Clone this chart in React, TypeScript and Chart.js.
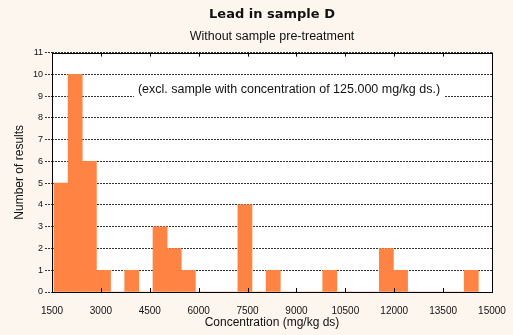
import React, { useEffect, useRef } from "react";
import { Chart, registerables } from "chart.js";

Chart.register(...registerables);

// Histogram bin edges (mg/kg ds) and counts per bin
const binEdges = [
  1560, 1994, 2428, 2862, 3296, 3730, 4164, 4598, 5032, 5466, 5900, 6334, 6768, 7202, 7636,
  8070, 8504, 8938, 9372, 9806, 10240, 10674, 11108, 11542, 11976, 12410, 12844, 13278, 13712,
  14146, 14580,
];
const counts = [
  5, 10, 6, 1, 0, 1, 0, 3, 2, 1, 0, 0, 0, 4, 0, 1, 0, 0, 0, 1, 0, 0, 0, 2, 1, 0, 0, 0, 0, 1,
];
const xTicks = [1500, 3000, 4500, 6000, 7500, 9000, 10500, 12000, 13500, 15000];
const yTicks = [0, 1, 2, 3, 4, 5, 6, 7, 8, 9, 10, 11];

const titleText = "Lead in sample D";
const subtitleText = "Without sample pre-treatment";
const noteText = "(excl. sample with concentration of 125.000 mg/kg ds.)";
const xTitle = "Concentration (mg/kg ds)";
const yTitle = "Number of results";

const BG = "#fdf6ee";
const BAR = "#ff8444";
const FONT = "'Liberation Sans', Arial, sans-serif";

const framePlugin = {
  id: "frame",
  beforeDraw(chart: any) {
    const { ctx, chartArea: a } = chart;
    ctx.save();
    ctx.fillStyle = BG;
    ctx.fillRect(0, 0, chart.width, chart.height);
    ctx.fillStyle = "#ffffff";
    ctx.fillRect(a.left, a.top, a.right - a.left, a.bottom - a.top);
    ctx.restore();
  },
  afterDraw(chart: any) {
    const { ctx, chartArea: a } = chart;
    const xs = chart.scales.x;
    ctx.save();
    // note with white box
    ctx.font = `12.5px ${FONT}`;
    const cx = (a.left + a.right) / 2 + 17;
    const cy = a.top + 37;
    const w = ctx.measureText(noteText).width;
    ctx.fillStyle = "#ffffff";
    ctx.fillRect(cx - w / 2 - 4, cy - 8, w + 8, 16);
    ctx.fillStyle = "#111111";
    ctx.textAlign = "center";
    ctx.textBaseline = "middle";
    ctx.fillText(noteText, cx, cy);
    // frame
    ctx.strokeStyle = "#000000";
    ctx.lineWidth = 1;
    ctx.strokeRect(Math.round(a.left) + 0.5, Math.round(a.top) + 0.5, Math.round(a.right - a.left), Math.round(a.bottom - a.top));
    // inward x tick marks top and bottom
    ctx.beginPath();
    for (const t of xTicks) {
      const px = Math.round(xs.getPixelForValue(t)) + 0.5;
      ctx.moveTo(px, a.bottom);
      ctx.lineTo(px, a.bottom - 4);
      ctx.moveTo(px, a.top);
      ctx.lineTo(px, a.top + 4);
    }
    ctx.stroke();
    ctx.restore();
  },
};

export default function App() {
  const ref = useRef<HTMLCanvasElement | null>(null);
  useEffect(() => {
    document.body.style.margin = "0";
    const data = counts.map((c, i) => ({ x: (binEdges[i] + binEdges[i + 1]) / 2, y: c }));
    const chart = new Chart(ref.current as HTMLCanvasElement, {
      type: "bar",
      data: {
        datasets: [
          {
            data: data as any,
            backgroundColor: BAR,
            borderWidth: 0,
            barPercentage: 1,
            categoryPercentage: 1,
          },
        ],
      },
      options: {
        responsive: false,
        animation: false,
        devicePixelRatio: 1,
        layout: { padding: { left: 0, right: 21, top: 0, bottom: 0 } },
        plugins: {
          legend: { display: false },
          tooltip: { enabled: false },
          title: {
            display: true,
            text: titleText,
            fullSize: false,
            color: "#111",
            font: { family: "'DejaVu Sans', sans-serif", size: 13, weight: "bold", lineHeight: 1.2 },
            padding: { top: 7, bottom: 3 },
          },
          subtitle: {
            display: true,
            text: subtitleText,
            fullSize: false,
            color: "#111",
            font: { family: FONT, size: 12.5, lineHeight: 1.2 },
            padding: { top: 3, bottom: 9 },
          },
        },
        scales: {
          x: {
            type: "linear",
            min: 1500,
            max: 15000,
            offset: false,
            afterFit: (s: any) => {
              s.height = 43;
            },
            afterBuildTicks: (s: any) => {
              s.ticks = xTicks.map((v) => ({ value: v }));
            },
            grid: { display: false },
            border: { display: false },
            ticks: {
              color: "#111",
              font: { family: FONT, size: 10 },
              padding: 5,
              maxRotation: 0,
              autoSkip: false,
              callback: (v: any) => String(v),
            },
            title: {
              display: true,
              text: xTitle,
              color: "#111",
              font: { family: FONT, size: 12, lineHeight: 1.2 },
              padding: { top: 0, bottom: 5 },
            },
          },
          y: {
            min: 0,
            max: 11,
            afterFit: (s: any) => {
              s.width = 52;
            },
            afterBuildTicks: (s: any) => {
              s.ticks = yTicks.map((v) => ({ value: v }));
            },
            grid: {
              color: "#333",
              lineWidth: 1,
              tickLength: 7,
              tickColor: "#333",
              tickBorderDash: [2, 1],
            },
            border: { display: false, dash: [2, 1] },
            ticks: {
              color: "#111",
              font: { family: FONT, size: 9 },
              padding: 2,
              autoSkip: false,
            },
            title: {
              display: true,
              text: yTitle,
              color: "#111",
              font: { family: FONT, size: 12, lineHeight: 1.2 },
              padding: { top: 12, bottom: 0 },
            },
          },
        },
      },
      plugins: [framePlugin],
    });
    return () => chart.destroy();
  }, []);
  return (
    <div style={{ position: "fixed", left: 0, top: 0, width: 513, height: 335, background: BG }}>
      <canvas ref={ref} width={513} height={335} style={{ display: "block" }} />
    </div>
  );
}
